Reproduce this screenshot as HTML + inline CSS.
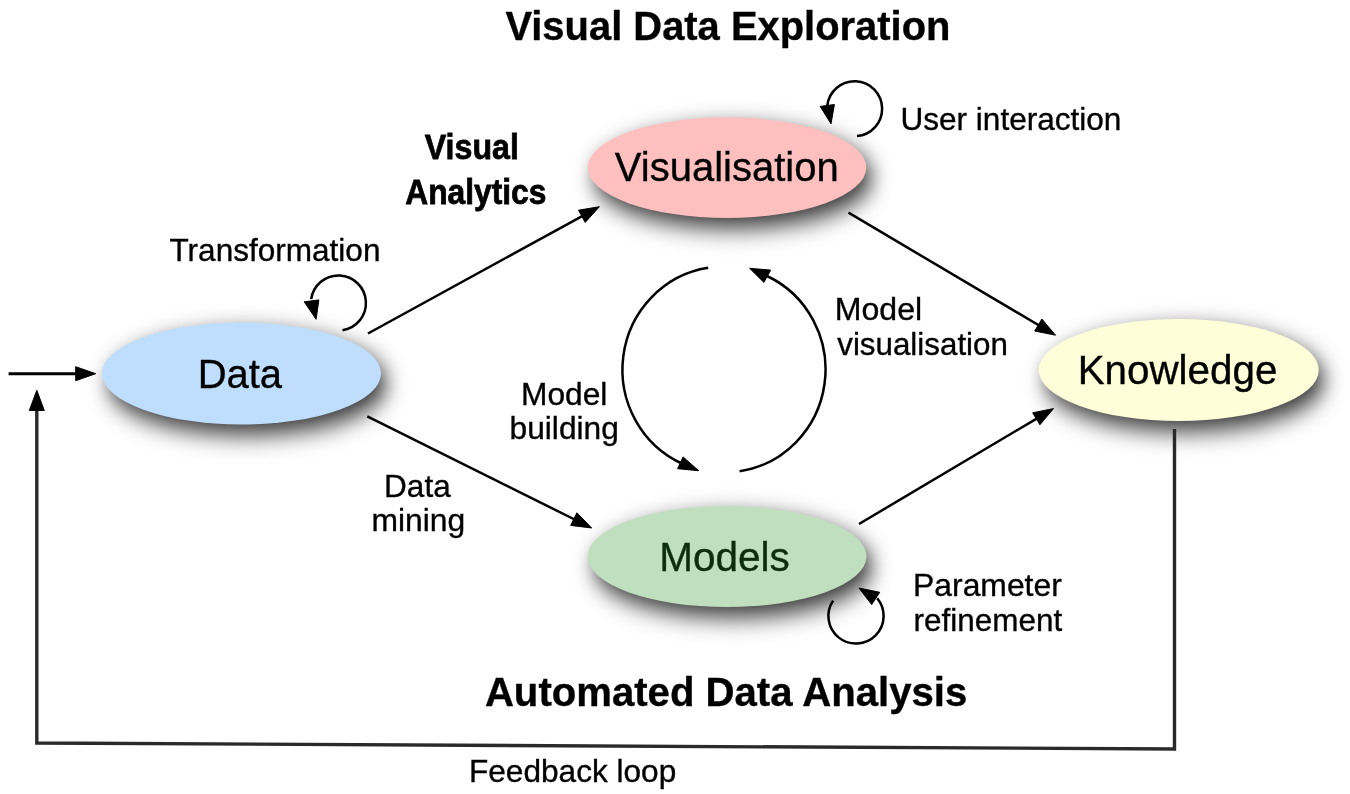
<!DOCTYPE html>
<html><head><meta charset="utf-8"><style>
html,body{margin:0;padding:0;background:#fff;}
svg{display:block;}
#wrap{width:1350px;height:794px;}
#txt{will-change:transform;}
text{font-family:"Liberation Sans",sans-serif;stroke:currentColor;stroke-width:0.35px;}
</style></head><body><div id="wrap">
<svg width="1350" height="794" viewBox="0 0 1350 794">
<defs><filter id="sh" x="-30%" y="-60%" width="160%" height="220%"><feGaussianBlur stdDeviation="10 12"/></filter></defs>
<rect width="1350" height="794" fill="#fff"/>
<ellipse cx="733" cy="177.6" rx="139.3" ry="50.3" fill="#000" fill-opacity="0.8" filter="url(#sh)"/>
<ellipse cx="247.5" cy="383.5" rx="139.5" ry="51" fill="#000" fill-opacity="0.8" filter="url(#sh)"/>
<ellipse cx="1184.75" cy="380" rx="140" ry="51" fill="#000" fill-opacity="0.8" filter="url(#sh)"/>
<ellipse cx="733" cy="566.5" rx="139.5" ry="50.5" fill="#000" fill-opacity="0.8" filter="url(#sh)"/>
<ellipse cx="727" cy="167.6" rx="139.3" ry="50.3" fill="#febfbf"/>
<ellipse cx="241.5" cy="373.5" rx="139.5" ry="51" fill="#bfdefd"/>
<ellipse cx="1178.75" cy="370" rx="140" ry="51" fill="#fefed8"/>
<ellipse cx="727" cy="556.5" rx="139.5" ry="50.5" fill="#c0dfbe"/>
<g stroke="#000" fill="#000">
<line x1="368" y1="333.5" x2="583.6" y2="215.3" stroke-width="2.5"/><polygon points="599.4,206.7 585.2,222.4 578.5,210.2"/>
<line x1="367.3" y1="416.4" x2="575.6" y2="520.0" stroke-width="2.5"/><polygon points="591.7,528.0 570.7,525.4 576.9,512.8"/>
<line x1="848.5" y1="212.7" x2="1040.0" y2="326.0" stroke-width="2.5"/><polygon points="1055.5,335.2 1034.7,331.0 1041.9,319.0"/>
<line x1="859" y1="524" x2="1038.0" y2="417.8" stroke-width="2.5"/><polygon points="1053.5,408.6 1039.9,424.8 1032.7,412.8"/>
<line x1="8.6" y1="373.7" x2="77.7" y2="373.7" stroke-width="3"/><polygon points="95.7,373.7 75.7,380.7 75.7,366.7"/>
<polyline points="1174.5,429 1174.5,749 36.8,743 36.8,408" fill="none" stroke="#2a2a2a" stroke-width="3.4" stroke-linejoin="miter"/>
<polygon points="36.8,390.3 29.3,410.5 44.3,410.5"/>
<path d="M857,136.1 A27.5,27.5 0 1 0 827.3,105.5" fill="none" stroke-width="2.5"/>
<polygon points="831,123.8 820.2,106.4 834.4,104.5"/>
<path d="M342.5,330.2 A27.5,27.5 0 1 0 311.2,299.1" fill="none" stroke-width="2.5"/>
<polygon points="316.1,319.3 304.2,301.8 318.9,299.9"/>
<path d="M833.1,600.6 A27.6,27.6 0 1 0 877.2,598.3" fill="none" stroke-width="2.5"/>
<polygon points="858.9,588 879.7,592.3 871.7,604.6"/>
<path d="M708.2,267.8 A101,103 0 0 0 683,464" fill="none" stroke-width="2.5"/>
<polygon points="698.7,470.7 677.6,468.7 683.1,456.9"/>
<path d="M739.6,471.3 A101,103 0 0 0 767,276" fill="none" stroke-width="2.5"/>
<polygon points="749.6,268.3 770.7,270.1 763.9,282.4"/>
</g>
<g id="txt">
<text id="title" x="505.40" y="40.00" font-size="39.91" font-weight="bold" fill="#000" color="#000">Visual Data Exploration</text>
<text id="va1" transform="translate(424.76,158.90) scale(1,1.08)" font-size="32.14" font-weight="bold" fill="#000" color="#000" style="stroke-width:0.7px">Visual</text>
<text id="va2" transform="translate(405.21,203.70) scale(1,1.08)" font-size="31.76" font-weight="bold" fill="#000" color="#000" style="stroke-width:0.7px">Analytics</text>
<text id="vis" x="614.80" y="181.00" font-size="40.00" font-weight="normal" fill="#000" color="#000">Visualisation</text>
<text id="ui" x="900.46" y="130.40" font-size="31.55" font-weight="normal" fill="#000" color="#000">User interaction</text>
<text id="tr" x="169.49" y="260.80" font-size="31.55" font-weight="normal" fill="#000" color="#000">Transformation</text>
<text id="data" x="197.70" y="388.00" font-size="39.95" font-weight="normal" fill="#000" color="#000">Data</text>
<text id="mv1" x="834.75" y="320.20" font-size="32.08" font-weight="normal" fill="#000" color="#000">Model</text>
<text id="mv2" x="837.24" y="354.70" font-size="31.33" font-weight="normal" fill="#000" color="#000">visualisation</text>
<text id="kn" x="1077.67" y="383.80" font-size="40.37" font-weight="normal" fill="#000" color="#000">Knowledge</text>
<text id="mb1" x="521.09" y="404.80" font-size="31.69" font-weight="normal" fill="#000" color="#000">Model</text>
<text id="mb2" x="509.54" y="438.50" font-size="31.72" font-weight="normal" fill="#000" color="#000">building</text>
<text id="dm1" x="384.10" y="497.00" font-size="31.52" font-weight="normal" fill="#000" color="#000">Data</text>
<text id="dm2" x="371.45" y="531.00" font-size="31.83" font-weight="normal" fill="#000" color="#000">mining</text>
<text id="models" x="659.26" y="571.00" font-size="40.52" font-weight="normal" fill="#0d2e0d" color="#0d2e0d">Models</text>
<text id="pr1" x="913.07" y="596.00" font-size="31.86" font-weight="normal" fill="#000" color="#000">Parameter</text>
<text id="pr2" x="913.58" y="630.70" font-size="31.46" font-weight="normal" fill="#000" color="#000">refinement</text>
<text id="ada" x="484.90" y="706.00" font-size="40.13" font-weight="bold" fill="#000" color="#000">Automated Data Analysis</text>
<text id="fb" x="468.99" y="782.40" font-size="31.60" font-weight="normal" fill="#000" color="#000">Feedback loop</text>
</g>
</svg></div>
</body></html>
